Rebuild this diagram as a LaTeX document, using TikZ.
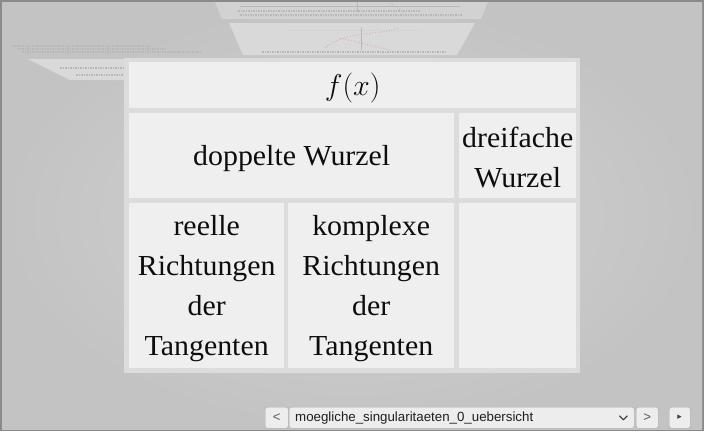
\RequirePackage{fix-cm}
\documentclass[tikz,border=0pt]{standalone}
\usepackage[no-math]{fontspec}
\setmainfont[FakeStretch=1.03]{Liberation Serif}
\newfontfamily\navfont{Liberation Sans}
\newfontfamily\symbfont{DejaVu Sans}
\usetikzlibrary{calc}

\definecolor{framegray}{HTML}{8A8A8A}
\definecolor{bgin}{HTML}{D3D3D3}
\definecolor{bgout}{HTML}{C3C3C3}
\definecolor{ghostgray}{HTML}{D9D9D9}
\definecolor{ghostink}{HTML}{B8B8B8}
\definecolor{ghostred}{HTML}{D9A3A3}
\definecolor{panelgray}{HTML}{DCDCDC}
\definecolor{cellgray}{HTML}{EFEFEF}
\definecolor{btnfill}{HTML}{EDEDED}
\definecolor{btnline}{HTML}{A8A8A8}

\tikzset{
  cell/.style={fill=cellgray, inner sep=0pt, anchor=north west},
  celltext/.style={align=center, text=black!95, yshift=-3pt,
    font=\fontsize{29}{40}\selectfont},
  navbtn/.style={draw=btnline, fill=btnfill, rounded corners=2pt, inner sep=0pt,
    anchor=north west, minimum height=21pt, text=black!65,
    font=\navfont\fontsize{13.3}{15}\selectfont},
  ghosttext/.style={ghostink, line width=1.2pt, dash pattern=on 1.5pt off 1pt},
}

\begin{document}
\begin{tikzpicture}[x=1pt, y=-1pt]
  \useasboundingbox (0,0) rectangle (704,431);

  % Background
  \fill[framegray] (0,0) rectangle (704,431);
  \shade[inner color=bgin, outer color=bgout] (2,2) rectangle (702,429);

  % Ghost slides behind
  \fill[ghostgray!97!black] (215,2) -- (488,2) -- (481,19) -- (222,19) -- cycle;
  \draw[ghostink] (240,6) -- (460,6);
  \draw[ghostink] (357,2) -- (357,12);
  \draw[ghostred, dotted, line width=0.8pt] (390,3) -- (402,11);
  \draw[ghosttext] (238,11) -- (420,11);
  \draw[ghosttext] (240,15) -- (462,15);

  \fill[ghostgray] (229,23) -- (475,23) -- (457,55) -- (243,55) -- cycle;
  \draw[ghostink] (361,27) -- (361,50);
  \draw[ghostink!70, dotted] (290,30) -- (420,30);
  \draw[ghostred, dotted, line width=0.8pt] (325,48) .. controls (345,30) and (380,36) .. (398,28);
  \draw[ghostred, dotted, line width=0.8pt] (340,38) -- (390,50);
  \draw[ghosttext] (262,52) -- (445,52);

  \draw[ghosttext] (12,46) -- (150,46);
  \draw[ghosttext] (17,49) -- (165,49);
  \draw[ghosttext] (22,52) -- (200,52);

  \fill[ghostgray] (28,59) -- (124,59) -- (124,80) -- (70,80) -- cycle;
  \draw[ghosttext] (60,68) -- (124,68);
  \draw[ghosttext] (76,75) -- (124,75);

  % Table
  \fill[panelgray] (124,58) rectangle (580,373);

  \node[cell, minimum width=447pt, minimum height=46pt,
    label={[celltext, font=\fontsize{30}{40}\selectfont]center:$f(x)$}] (fx) at (129,62) {};
  \node[cell, minimum width=325pt, minimum height=85pt,
    label={[celltext]center:doppelte Wurzel}] (doppelt) at (129,113) {};
  \node[cell, minimum width=117pt, minimum height=85pt,
    label={[celltext, yshift=1.5pt]center:{dreifache\\Wurzel}}] (dreifach) at (459,113) {};
  \node[cell, minimum width=155pt, minimum height=165pt,
    label={[celltext]center:{reelle\\Richtungen\\der\\Tangenten}}] (reell) at (129,203) {};
  \node[cell, minimum width=166pt, minimum height=165pt,
    label={[celltext]center:{komplexe\\Richtungen\\der\\Tangenten}}] (komplex) at (288,203) {};
  \node[cell, minimum width=117pt, minimum height=165pt] (leer) at (459,203) {};

  % Navigation
  \node[navbtn, minimum width=23pt] (prev) at (265,407) {<};
  \node[navbtn, text width=333pt, inner xsep=6pt, align=left, text=black!88] (select) at (289,407)
    {moegliche\_singularitaeten\_0\_uebersicht};
  \draw[black!80, line width=1.1pt] ($(select.east)+(-15,-2)$) -- ++(4,4) -- ++(4,-4);
  \node[navbtn, minimum width=22pt] (next) at (636,407) {>};
  \node[navbtn, minimum width=21pt, font=\symbfont\fontsize{9}{11}\selectfont, text=black!75] (play) at (669,407) {▸};
\end{tikzpicture}
\end{document}
